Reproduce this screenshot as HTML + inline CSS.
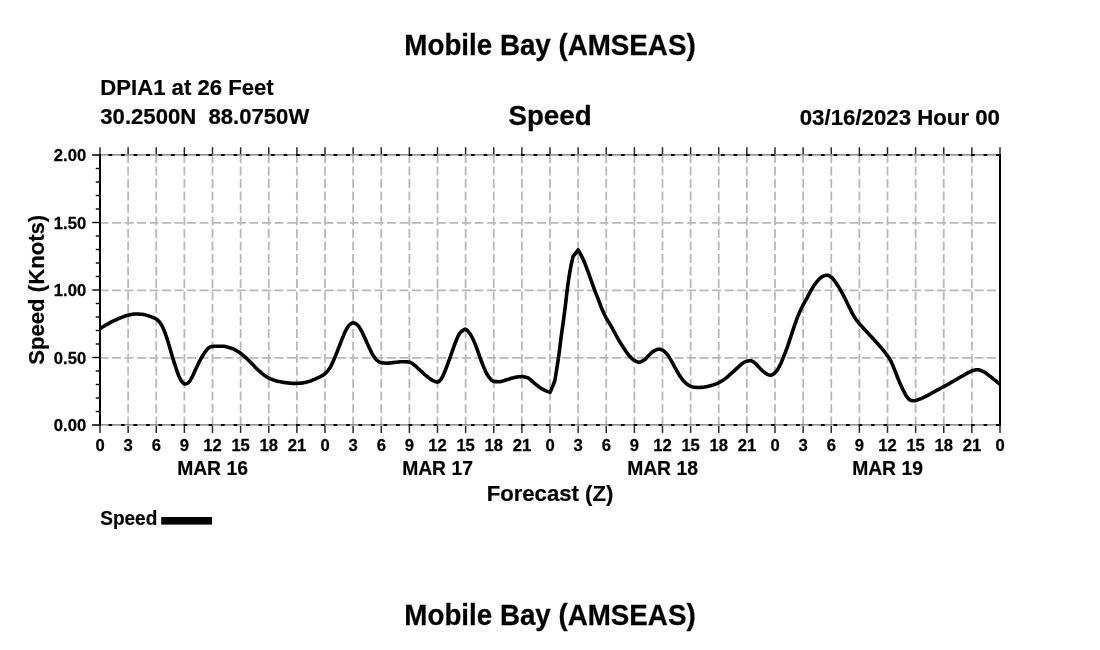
<!DOCTYPE html>
<html><head><meta charset="utf-8"><title>Mobile Bay (AMSEAS)</title>
<style>
html,body{margin:0;padding:0;background:#fff;}
body{width:1100px;height:650px;overflow:hidden;}
svg{display:block;}
text{font-family:"Liberation Sans",sans-serif;font-weight:bold;fill:#000;}
</style></head><body>
<svg width="1100" height="650" viewBox="0 0 1100 650">
<rect width="1100" height="650" fill="#fff"/>

<g stroke="#b9b9b9" stroke-width="1.8" stroke-dasharray="9 3.5" fill="none">
<line x1="128.125" y1="425.4" x2="128.125" y2="155"/>
<line x1="156.250" y1="425.4" x2="156.250" y2="155"/>
<line x1="184.375" y1="425.4" x2="184.375" y2="155"/>
<line x1="212.500" y1="425.4" x2="212.500" y2="155"/>
<line x1="240.625" y1="425.4" x2="240.625" y2="155"/>
<line x1="268.750" y1="425.4" x2="268.750" y2="155"/>
<line x1="296.875" y1="425.4" x2="296.875" y2="155"/>
<line x1="325.000" y1="425.4" x2="325.000" y2="155"/>
<line x1="353.125" y1="425.4" x2="353.125" y2="155"/>
<line x1="381.250" y1="425.4" x2="381.250" y2="155"/>
<line x1="409.375" y1="425.4" x2="409.375" y2="155"/>
<line x1="437.500" y1="425.4" x2="437.500" y2="155"/>
<line x1="465.625" y1="425.4" x2="465.625" y2="155"/>
<line x1="493.750" y1="425.4" x2="493.750" y2="155"/>
<line x1="521.875" y1="425.4" x2="521.875" y2="155"/>
<line x1="550.000" y1="425.4" x2="550.000" y2="155"/>
<line x1="578.125" y1="425.4" x2="578.125" y2="155"/>
<line x1="606.250" y1="425.4" x2="606.250" y2="155"/>
<line x1="634.375" y1="425.4" x2="634.375" y2="155"/>
<line x1="662.500" y1="425.4" x2="662.500" y2="155"/>
<line x1="690.625" y1="425.4" x2="690.625" y2="155"/>
<line x1="718.750" y1="425.4" x2="718.750" y2="155"/>
<line x1="746.875" y1="425.4" x2="746.875" y2="155"/>
<line x1="775.000" y1="425.4" x2="775.000" y2="155"/>
<line x1="803.125" y1="425.4" x2="803.125" y2="155"/>
<line x1="831.250" y1="425.4" x2="831.250" y2="155"/>
<line x1="859.375" y1="425.4" x2="859.375" y2="155"/>
<line x1="887.500" y1="425.4" x2="887.500" y2="155"/>
<line x1="915.625" y1="425.4" x2="915.625" y2="155"/>
<line x1="943.750" y1="425.4" x2="943.750" y2="155"/>
<line x1="971.875" y1="425.4" x2="971.875" y2="155"/>
<line x1="99.5" y1="357.9" x2="1000" y2="357.9"/>
<line x1="99.5" y1="290.4" x2="1000" y2="290.4"/>
<line x1="99.5" y1="222.9" x2="1000" y2="222.9"/>
</g>
<g stroke="#707070" stroke-width="1.4"><line x1="92.25" y1="154.9" x2="1000" y2="154.9"/><line x1="92.25" y1="424.9" x2="1000" y2="424.9"/></g>
<g stroke="#3a3a3a" stroke-width="2"><line x1="92.25" y1="155" x2="100" y2="155"/><line x1="92.25" y1="425" x2="100" y2="425"/></g>
<g stroke="#000" stroke-width="2" stroke-dasharray="3.6 8.9"><line x1="108.6" y1="155" x2="1000" y2="155"/><line x1="108.6" y1="425" x2="1000" y2="425"/></g>
<g stroke="#2a2a2a" stroke-width="1.5">
<line x1="100.000" y1="147.25" x2="100.000" y2="154"/>
<line x1="100.000" y1="426" x2="100.000" y2="432.9"/>
<line x1="128.125" y1="147.25" x2="128.125" y2="154"/>
<line x1="128.125" y1="426" x2="128.125" y2="432.9"/>
<line x1="156.250" y1="147.25" x2="156.250" y2="154"/>
<line x1="156.250" y1="426" x2="156.250" y2="432.9"/>
<line x1="184.375" y1="147.25" x2="184.375" y2="154"/>
<line x1="184.375" y1="426" x2="184.375" y2="432.9"/>
<line x1="212.500" y1="147.25" x2="212.500" y2="154"/>
<line x1="212.500" y1="426" x2="212.500" y2="432.9"/>
<line x1="240.625" y1="147.25" x2="240.625" y2="154"/>
<line x1="240.625" y1="426" x2="240.625" y2="432.9"/>
<line x1="268.750" y1="147.25" x2="268.750" y2="154"/>
<line x1="268.750" y1="426" x2="268.750" y2="432.9"/>
<line x1="296.875" y1="147.25" x2="296.875" y2="154"/>
<line x1="296.875" y1="426" x2="296.875" y2="432.9"/>
<line x1="325.000" y1="147.25" x2="325.000" y2="154"/>
<line x1="325.000" y1="426" x2="325.000" y2="432.9"/>
<line x1="353.125" y1="147.25" x2="353.125" y2="154"/>
<line x1="353.125" y1="426" x2="353.125" y2="432.9"/>
<line x1="381.250" y1="147.25" x2="381.250" y2="154"/>
<line x1="381.250" y1="426" x2="381.250" y2="432.9"/>
<line x1="409.375" y1="147.25" x2="409.375" y2="154"/>
<line x1="409.375" y1="426" x2="409.375" y2="432.9"/>
<line x1="437.500" y1="147.25" x2="437.500" y2="154"/>
<line x1="437.500" y1="426" x2="437.500" y2="432.9"/>
<line x1="465.625" y1="147.25" x2="465.625" y2="154"/>
<line x1="465.625" y1="426" x2="465.625" y2="432.9"/>
<line x1="493.750" y1="147.25" x2="493.750" y2="154"/>
<line x1="493.750" y1="426" x2="493.750" y2="432.9"/>
<line x1="521.875" y1="147.25" x2="521.875" y2="154"/>
<line x1="521.875" y1="426" x2="521.875" y2="432.9"/>
<line x1="550.000" y1="147.25" x2="550.000" y2="154"/>
<line x1="550.000" y1="426" x2="550.000" y2="432.9"/>
<line x1="578.125" y1="147.25" x2="578.125" y2="154"/>
<line x1="578.125" y1="426" x2="578.125" y2="432.9"/>
<line x1="606.250" y1="147.25" x2="606.250" y2="154"/>
<line x1="606.250" y1="426" x2="606.250" y2="432.9"/>
<line x1="634.375" y1="147.25" x2="634.375" y2="154"/>
<line x1="634.375" y1="426" x2="634.375" y2="432.9"/>
<line x1="662.500" y1="147.25" x2="662.500" y2="154"/>
<line x1="662.500" y1="426" x2="662.500" y2="432.9"/>
<line x1="690.625" y1="147.25" x2="690.625" y2="154"/>
<line x1="690.625" y1="426" x2="690.625" y2="432.9"/>
<line x1="718.750" y1="147.25" x2="718.750" y2="154"/>
<line x1="718.750" y1="426" x2="718.750" y2="432.9"/>
<line x1="746.875" y1="147.25" x2="746.875" y2="154"/>
<line x1="746.875" y1="426" x2="746.875" y2="432.9"/>
<line x1="775.000" y1="147.25" x2="775.000" y2="154"/>
<line x1="775.000" y1="426" x2="775.000" y2="432.9"/>
<line x1="803.125" y1="147.25" x2="803.125" y2="154"/>
<line x1="803.125" y1="426" x2="803.125" y2="432.9"/>
<line x1="831.250" y1="147.25" x2="831.250" y2="154"/>
<line x1="831.250" y1="426" x2="831.250" y2="432.9"/>
<line x1="859.375" y1="147.25" x2="859.375" y2="154"/>
<line x1="859.375" y1="426" x2="859.375" y2="432.9"/>
<line x1="887.500" y1="147.25" x2="887.500" y2="154"/>
<line x1="887.500" y1="426" x2="887.500" y2="432.9"/>
<line x1="915.625" y1="147.25" x2="915.625" y2="154"/>
<line x1="915.625" y1="426" x2="915.625" y2="432.9"/>
<line x1="943.750" y1="147.25" x2="943.750" y2="154"/>
<line x1="943.750" y1="426" x2="943.750" y2="432.9"/>
<line x1="971.875" y1="147.25" x2="971.875" y2="154"/>
<line x1="971.875" y1="426" x2="971.875" y2="432.9"/>
<line x1="1000.000" y1="147.25" x2="1000.000" y2="154"/>
<line x1="1000.000" y1="426" x2="1000.000" y2="432.9"/>
</g>
<g stroke="#000" stroke-width="1.4">
<line x1="95.75" y1="411.5" x2="100" y2="411.5"/>
<line x1="95.75" y1="398.0" x2="100" y2="398.0"/>
<line x1="95.75" y1="384.5" x2="100" y2="384.5"/>
<line x1="95.75" y1="371.0" x2="100" y2="371.0"/>
<line x1="92.25" y1="357.5" x2="100" y2="357.5"/>
<line x1="95.75" y1="344.0" x2="100" y2="344.0"/>
<line x1="95.75" y1="330.5" x2="100" y2="330.5"/>
<line x1="95.75" y1="317.0" x2="100" y2="317.0"/>
<line x1="95.75" y1="303.5" x2="100" y2="303.5"/>
<line x1="92.25" y1="290.0" x2="100" y2="290.0"/>
<line x1="95.75" y1="276.5" x2="100" y2="276.5"/>
<line x1="95.75" y1="263.0" x2="100" y2="263.0"/>
<line x1="95.75" y1="249.5" x2="100" y2="249.5"/>
<line x1="95.75" y1="236.0" x2="100" y2="236.0"/>
<line x1="92.25" y1="222.5" x2="100" y2="222.5"/>
<line x1="95.75" y1="209.0" x2="100" y2="209.0"/>
<line x1="95.75" y1="195.5" x2="100" y2="195.5"/>
<line x1="95.75" y1="182.0" x2="100" y2="182.0"/>
<line x1="95.75" y1="168.5" x2="100" y2="168.5"/>
</g>
<g stroke="#000" stroke-width="2"><line x1="100" y1="154" x2="100" y2="426"/><line x1="1000" y1="154" x2="1000" y2="426"/></g>
<path d="M100.0 328.5 L101.0 327.9 L102.0 327.3 L103.0 326.7 L104.0 326.1 L105.0 325.5 L106.0 324.9 L107.0 324.4 L108.0 323.8 L109.0 323.3 L109.7 322.9 L110.0 322.7 L111.0 322.2 L112.0 321.7 L113.0 321.2 L114.0 320.7 L115.0 320.2 L116.0 319.8 L117.0 319.3 L118.0 318.9 L118.5 318.7 L119.0 318.5 L120.0 318.1 L121.0 317.7 L122.0 317.3 L123.0 316.9 L124.0 316.5 L125.0 316.1 L126.0 315.8 L127.0 315.5 L128.0 315.3 L129.0 315.1 L130.0 314.8 L131.0 314.6 L132.0 314.4 L133.0 314.3 L134.0 314.1 L135.0 314.0 L136.0 314.0 L137.0 314.0 L138.0 314.0 L139.0 314.1 L140.0 314.2 L141.0 314.2 L141.8 314.3 L142.0 314.3 L143.0 314.4 L144.0 314.6 L145.0 314.9 L146.0 315.1 L147.0 315.4 L148.0 315.7 L149.0 316.0 L149.2 316.1 L150.0 316.4 L151.0 316.7 L152.0 317.1 L153.0 317.5 L154.0 317.9 L155.0 318.4 L156.0 319.0 L156.5 319.3 L157.0 319.6 L158.0 320.5 L159.0 321.5 L160.0 322.7 L161.0 324.1 L162.0 325.8 L163.0 327.9 L164.0 330.2 L164.5 331.4 L165.0 332.7 L166.0 335.5 L167.0 338.6 L168.0 341.8 L168.2 342.4 L169.0 345.1 L170.0 348.6 L171.0 352.1 L171.8 354.8 L172.0 355.5 L173.0 358.7 L174.0 361.9 L175.0 365.0 L175.5 366.5 L176.0 368.0 L177.0 371.1 L178.0 374.0 L179.0 376.5 L179.1 376.7 L180.0 378.6 L181.0 380.4 L182.0 381.8 L183.0 382.9 L184.0 383.7 L184.5 384.0 L185.5 383.9 L186.5 383.6 L187.5 383.2 L187.9 383.0 L188.5 382.6 L189.5 381.4 L190.5 379.9 L191.5 378.2 L192.5 376.3 L193.5 374.2 L194.5 371.8 L195.5 369.6 L195.9 368.7 L196.5 367.5 L197.5 365.4 L198.5 363.3 L199.5 361.4 L200.3 359.9 L200.5 359.5 L201.5 357.7 L202.5 356.0 L203.5 354.4 L204.5 352.9 L204.7 352.6 L205.5 351.5 L206.5 350.1 L207.5 348.9 L208.3 348.2 L208.5 348.1 L209.5 347.4 L210.5 346.9 L211.5 346.6 L212.0 346.5 L212.5 346.5 L213.5 346.4 L214.5 346.3 L215.5 346.3 L216.5 346.2 L217.5 346.2 L218.0 346.2 L218.5 346.2 L219.5 346.2 L220.5 346.2 L221.5 346.2 L222.3 346.2 L222.5 346.2 L223.5 346.3 L224.5 346.4 L225.5 346.6 L226.5 346.8 L227.5 347.1 L228.5 347.4 L229.5 347.7 L229.6 347.7 L230.5 348.0 L231.5 348.3 L232.5 348.7 L233.5 349.2 L234.5 349.7 L235.5 350.2 L236.5 350.7 L236.9 350.9 L237.5 351.2 L238.5 351.8 L239.5 352.5 L240.5 353.2 L241.0 353.6 L241.5 354.0 L242.5 354.8 L243.5 355.6 L244.5 356.5 L245.5 357.4 L246.5 358.3 L247.2 359.0 L247.5 359.3 L248.5 360.2 L249.5 361.2 L250.5 362.3 L251.5 363.3 L252.5 364.3 L253.0 364.8 L253.5 365.3 L254.5 366.4 L255.5 367.4 L256.5 368.5 L257.5 369.5 L258.5 370.4 L258.8 370.7 L259.5 371.3 L260.5 372.2 L261.5 373.1 L262.5 373.9 L263.5 374.6 L264.5 375.4 L264.7 375.5 L265.5 376.0 L266.5 376.7 L267.5 377.3 L268.5 377.9 L268.8 378.0 L269.5 378.3 L270.5 378.8 L271.5 379.2 L272.5 379.6 L273.5 380.0 L274.5 380.3 L275.5 380.7 L276.4 380.9 L276.5 380.9 L277.5 381.2 L278.5 381.4 L279.5 381.6 L280.5 381.8 L281.5 382.0 L282.5 382.2 L283.5 382.4 L284.5 382.5 L285.2 382.6 L285.5 382.6 L286.5 382.8 L287.5 382.9 L288.5 383.0 L289.5 383.1 L290.5 383.2 L291.5 383.3 L292.5 383.4 L293.5 383.4 L293.9 383.4 L294.5 383.4 L295.5 383.4 L296.5 383.4 L297.5 383.3 L298.5 383.3 L299.5 383.2 L300.5 383.1 L301.2 383.1 L301.5 383.1 L302.5 383.0 L303.5 382.8 L304.5 382.6 L305.5 382.4 L306.5 382.1 L307.5 381.9 L308.5 381.6 L309.5 381.3 L310.5 381.0 L311.5 380.6 L312.5 380.2 L313.5 379.7 L314.5 379.3 L315.5 378.8 L315.8 378.7 L316.5 378.4 L317.5 378.0 L318.5 377.5 L319.5 377.0 L320.5 376.6 L321.5 376.0 L322.5 375.4 L323.2 375.0 L323.5 374.8 L324.5 374.0 L325.5 373.2 L326.5 372.2 L327.5 371.1 L328.5 369.9 L329.4 368.7 L329.5 368.6 L330.5 366.9 L331.5 364.9 L332.5 362.8 L333.5 360.6 L333.8 359.9 L334.5 358.3 L335.5 355.9 L336.5 353.3 L337.5 350.8 L338.2 349.0 L338.5 348.2 L339.5 345.6 L340.5 343.0 L341.5 340.4 L342.5 338.0 L343.5 335.6 L344.5 333.3 L345.5 331.1 L346.5 329.2 L346.9 328.5 L347.5 327.5 L348.5 326.0 L349.5 324.9 L349.8 324.6 L350.5 324.0 L351.5 323.4 L352.5 322.9 L353.1 322.7 L354.1 322.9 L355.1 323.3 L356.1 323.9 L356.4 324.1 L357.1 324.6 L358.1 325.7 L359.1 327.0 L360.1 328.5 L361.1 330.2 L362.1 332.1 L363.1 334.3 L364.1 336.4 L364.5 337.3 L365.1 338.6 L366.1 340.8 L367.1 343.1 L368.1 345.3 L368.8 346.8 L369.1 347.4 L370.1 349.6 L371.1 351.7 L372.1 353.6 L373.1 355.3 L373.2 355.5 L374.1 356.9 L375.1 358.2 L376.1 359.4 L376.9 360.2 L377.1 360.4 L378.1 361.2 L379.1 361.9 L380.1 362.5 L381.1 362.8 L381.3 362.8 L382.1 362.9 L383.1 362.9 L384.1 363.0 L385.1 363.0 L386.1 363.1 L387.1 363.1 L387.8 363.1 L388.1 363.1 L389.1 363.1 L390.1 363.0 L391.1 362.9 L392.1 362.8 L393.1 362.6 L394.1 362.5 L395.1 362.4 L395.2 362.4 L396.1 362.3 L397.1 362.2 L398.1 362.1 L399.1 361.9 L400.1 361.8 L401.1 361.7 L402.1 361.7 L402.5 361.7 L403.1 361.7 L404.1 361.7 L405.1 361.8 L406.1 361.8 L407.1 361.9 L408.1 362.0 L409.1 362.1 L409.3 362.1 L410.1 362.3 L411.1 362.8 L412.1 363.4 L413.1 364.2 L414.1 364.9 L414.2 365.0 L415.1 365.7 L416.1 366.5 L417.1 367.5 L418.1 368.4 L419.1 369.4 L420.0 370.2 L420.1 370.3 L421.1 371.2 L422.1 372.1 L423.1 373.1 L424.1 374.0 L425.1 374.9 L426.1 375.7 L427.1 376.5 L427.3 376.7 L428.1 377.3 L429.1 378.1 L430.1 378.8 L431.1 379.5 L432.1 380.1 L433.1 380.7 L433.2 380.7 L434.1 381.1 L435.1 381.5 L436.1 381.8 L437.1 382.1 L437.4 382.2 L438.4 381.8 L439.4 381.0 L440.4 379.9 L440.8 379.5 L441.4 378.7 L442.4 376.9 L443.4 374.7 L444.4 372.4 L444.5 372.2 L445.4 370.1 L446.4 367.5 L447.4 364.9 L448.2 362.7 L448.4 362.2 L449.4 359.4 L450.4 356.5 L451.4 353.6 L451.8 352.5 L452.4 350.8 L453.4 348.0 L454.4 345.2 L455.4 342.5 L455.5 342.3 L456.4 340.0 L457.4 337.6 L458.4 335.4 L459.1 334.2 L459.4 333.8 L460.4 332.5 L461.4 331.5 L462.0 331.0 L462.4 330.7 L463.4 330.0 L464.4 329.5 L465.4 329.1 L465.5 329.1 L466.5 329.8 L467.5 330.7 L468.5 331.8 L469.3 332.8 L469.5 333.1 L470.5 334.6 L471.5 336.3 L472.5 338.3 L473.0 339.3 L473.5 340.3 L474.5 342.6 L475.5 345.0 L476.5 347.6 L476.7 348.1 L477.5 350.3 L478.5 353.2 L479.5 356.1 L480.3 358.3 L480.5 358.8 L481.5 361.5 L482.5 364.1 L483.5 366.6 L484.0 367.8 L484.5 368.9 L485.5 371.2 L486.5 373.3 L487.5 375.0 L487.6 375.2 L488.5 376.5 L489.5 377.9 L490.5 379.0 L491.3 379.8 L491.5 380.0 L492.5 380.8 L493.5 381.4 L493.8 381.4 L494.5 381.5 L495.5 381.6 L496.5 381.6 L497.5 381.7 L498.5 381.7 L499.3 381.7 L499.5 381.7 L500.5 381.6 L501.5 381.4 L502.5 381.1 L503.5 380.8 L504.5 380.5 L505.5 380.1 L506.5 379.8 L506.6 379.8 L507.5 379.5 L508.5 379.2 L509.5 378.9 L510.5 378.5 L511.5 378.2 L512.5 377.9 L513.5 377.7 L513.9 377.6 L514.5 377.5 L515.5 377.3 L516.5 377.1 L517.5 377.0 L518.5 376.8 L519.5 376.7 L520.5 376.7 L521.5 376.6 L522.0 376.6 L522.5 376.6 L523.5 376.7 L524.5 376.9 L525.5 377.1 L526.5 377.4 L527.1 377.6 L527.5 377.7 L528.5 378.2 L529.5 378.9 L530.5 379.8 L531.5 380.7 L532.5 381.6 L533.5 382.5 L534.4 383.2 L534.5 383.3 L535.5 384.1 L536.5 384.9 L537.5 385.7 L538.5 386.5 L539.5 387.2 L540.5 387.9 L541.5 388.6 L541.7 388.7 L542.5 389.2 L543.5 389.7 L544.5 390.2 L545.5 390.7 L546.5 391.1 L547.5 391.5 L548.5 391.8 L549.5 392.1 L550.1 392.3 L551.1 390.0 L552.1 387.6 L553.0 385.4 L553.1 385.1 L554.1 382.5 L554.9 380.3 L555.9 374.3 L556.7 369.3 L556.9 368.0 L557.9 361.6 L558.9 354.7 L559.9 346.9 L560.9 338.7 L561.1 337.2 L561.9 331.4 L562.9 324.4 L563.3 321.5 L563.9 317.0 L564.9 309.4 L565.5 304.6 L565.9 301.2 L566.9 292.4 L567.2 290.0 L567.9 284.7 L568.9 277.8 L569.1 276.5 L569.9 271.6 L570.9 266.1 L571.3 264.1 L571.9 261.3 L572.9 257.1 L573.1 256.4 L574.1 255.2 L575.1 254.0 L575.7 253.2 L576.1 252.7 L577.1 251.3 L578.1 249.9 L578.2 249.8 L579.2 251.6 L580.2 253.5 L580.8 254.6 L581.2 255.4 L582.2 257.3 L583.2 259.4 L583.7 260.5 L584.2 261.7 L585.2 264.2 L586.2 266.8 L587.2 269.5 L587.4 270.0 L588.2 272.2 L589.2 275.0 L590.2 277.8 L591.0 280.0 L591.2 280.6 L592.2 283.4 L593.2 286.2 L594.2 288.9 L594.6 290.0 L595.2 291.6 L596.2 294.2 L597.2 296.7 L598.2 299.2 L598.3 299.5 L599.2 301.8 L600.2 304.5 L601.2 307.1 L602.0 309.0 L602.2 309.5 L603.2 311.8 L604.2 314.0 L605.2 316.0 L606.2 318.0 L607.2 319.8 L608.2 321.4 L609.2 323.0 L610.2 324.6 L611.0 326.0 L611.2 326.4 L612.2 328.1 L613.2 330.0 L614.2 331.9 L615.2 333.7 L616.2 335.6 L617.0 337.0 L617.2 337.3 L618.2 339.1 L619.2 340.8 L620.2 342.5 L621.2 344.1 L622.2 345.7 L623.0 347.0 L623.2 347.3 L624.2 348.8 L625.2 350.3 L626.2 351.8 L627.2 353.2 L628.0 354.2 L628.2 354.4 L629.2 355.7 L630.2 356.8 L631.2 357.9 L632.0 358.6 L632.2 358.8 L633.2 359.6 L634.2 360.3 L635.2 360.9 L636.0 361.3 L636.2 361.4 L637.2 361.8 L638.2 362.2 L639.0 362.3 L639.2 362.3 L640.2 362.1 L641.2 361.7 L642.2 361.2 L643.2 360.6 L644.2 359.9 L644.4 359.8 L645.2 359.2 L646.2 358.2 L647.2 357.1 L648.2 356.0 L648.8 355.4 L649.2 355.0 L650.2 354.1 L651.2 353.1 L652.2 352.2 L653.2 351.5 L654.2 350.9 L655.2 350.3 L656.2 349.9 L656.5 349.8 L657.2 349.6 L658.2 349.3 L659.2 349.2 L659.4 349.2 L660.2 349.3 L661.2 349.6 L662.2 350.0 L662.6 350.2 L663.2 350.5 L664.2 351.3 L665.2 352.2 L666.2 353.3 L666.7 353.8 L667.2 354.4 L668.2 355.7 L669.2 357.3 L670.2 358.9 L671.1 360.4 L671.2 360.6 L672.2 362.3 L673.2 364.2 L674.2 366.1 L675.2 368.0 L675.5 368.5 L676.2 369.7 L677.2 371.5 L678.2 373.2 L679.2 374.9 L679.8 375.8 L680.2 376.4 L681.2 377.8 L682.2 379.2 L683.2 380.5 L684.2 381.6 L685.2 382.6 L686.2 383.5 L687.2 384.3 L687.9 384.8 L688.2 385.0 L689.2 385.6 L690.2 386.1 L690.8 386.3 L691.2 386.4 L692.2 386.7 L693.2 386.9 L694.2 387.2 L695.2 387.3 L696.2 387.4 L697.2 387.5 L697.4 387.5 L698.2 387.5 L699.2 387.5 L700.2 387.4 L701.2 387.4 L702.2 387.3 L703.2 387.2 L704.2 387.1 L705.2 386.9 L706.2 386.8 L707.2 386.5 L708.2 386.3 L709.2 386.0 L710.2 385.8 L710.5 385.7 L711.2 385.5 L712.2 385.2 L713.2 384.9 L714.2 384.5 L715.2 384.2 L716.2 383.8 L717.2 383.4 L718.2 382.9 L718.9 382.6 L719.2 382.5 L720.2 381.9 L721.2 381.4 L722.2 380.8 L723.2 380.1 L724.2 379.4 L725.2 378.7 L726.2 377.9 L727.2 377.1 L728.2 376.2 L729.2 375.2 L730.2 374.3 L731.0 373.6 L731.2 373.4 L732.2 372.5 L733.2 371.7 L734.2 370.8 L735.2 369.9 L736.2 369.0 L736.8 368.5 L737.2 368.1 L738.2 367.2 L739.2 366.2 L740.2 365.3 L741.2 364.4 L742.2 363.6 L742.7 363.3 L743.2 363.0 L744.2 362.4 L745.2 361.9 L746.2 361.5 L747.1 361.2 L747.2 361.2 L748.2 361.0 L749.2 360.8 L750.2 360.7 L750.7 360.7 L751.2 360.8 L752.2 361.1 L753.2 361.8 L754.2 362.5 L754.4 362.6 L755.2 363.2 L756.2 364.2 L757.2 365.3 L758.2 366.4 L758.8 367.0 L759.2 367.4 L760.2 368.5 L761.2 369.5 L762.2 370.5 L763.2 371.4 L764.2 372.2 L765.2 373.0 L766.2 373.6 L767.2 374.2 L767.5 374.3 L768.2 374.6 L769.2 375.0 L770.2 375.2 L770.6 375.2 L771.2 375.1 L772.2 374.8 L773.2 374.2 L774.2 373.4 L775.0 372.8 L775.2 372.6 L776.2 371.5 L777.2 370.1 L778.2 368.5 L778.9 367.3 L779.2 366.8 L780.2 364.8 L781.1 362.9 L781.2 362.7 L782.2 360.3 L783.2 357.8 L783.3 357.5 L784.2 355.3 L785.2 352.8 L786.2 350.2 L786.9 348.3 L787.2 347.5 L788.2 344.6 L789.2 341.6 L790.2 338.5 L790.6 337.3 L791.2 335.5 L792.2 332.4 L793.2 329.4 L794.2 326.4 L795.2 323.5 L796.2 320.7 L797.2 318.0 L797.9 316.2 L798.2 315.5 L799.2 313.1 L800.2 310.9 L801.2 308.8 L802.2 306.8 L803.0 305.2 L803.2 304.8 L804.2 302.9 L805.2 301.1 L806.2 299.4 L807.2 297.6 L807.4 297.2 L808.2 295.7 L809.2 293.8 L810.2 291.9 L811.2 290.1 L811.8 289.1 L812.2 288.4 L813.2 286.8 L814.2 285.3 L815.2 283.8 L816.2 282.5 L817.2 281.3 L818.2 280.1 L819.2 279.0 L820.2 278.1 L820.5 277.9 L821.2 277.4 L822.2 276.7 L823.2 276.2 L824.2 275.8 L825.2 275.5 L826.2 275.3 L827.1 275.2 L827.2 275.2 L828.2 275.4 L829.2 275.8 L830.2 276.4 L831.1 277.0 L831.2 277.1 L832.2 277.9 L833.2 279.1 L834.2 280.4 L835.2 281.8 L836.2 283.2 L837.2 284.7 L838.2 286.3 L839.2 287.9 L839.5 288.4 L840.2 289.6 L841.2 291.4 L842.2 293.2 L843.2 295.1 L843.9 296.4 L844.2 297.0 L845.2 298.9 L846.2 301.0 L847.2 303.0 L848.2 305.0 L848.3 305.2 L849.2 307.0 L850.2 309.1 L851.2 311.1 L852.2 313.1 L852.7 314.0 L853.2 314.9 L854.2 316.6 L855.2 318.2 L856.2 319.7 L856.3 319.8 L857.2 321.0 L858.2 322.2 L859.0 323.2 L859.2 323.4 L860.2 324.6 L861.2 325.7 L862.2 326.9 L863.2 328.0 L864.2 329.1 L865.2 330.1 L865.8 330.8 L866.2 331.2 L867.2 332.3 L868.2 333.4 L869.2 334.5 L870.2 335.6 L871.2 336.6 L872.2 337.7 L873.2 338.8 L874.2 339.9 L875.2 341.0 L876.2 342.1 L877.2 343.2 L878.0 344.1 L878.2 344.3 L879.2 345.5 L880.2 346.6 L881.2 347.7 L882.2 348.9 L883.1 350.0 L883.2 350.1 L884.2 351.4 L885.2 352.7 L886.2 354.0 L887.2 355.4 L887.5 355.8 L888.2 356.8 L889.2 358.3 L890.2 359.9 L891.2 361.7 L892.2 363.9 L893.2 366.3 L894.2 368.9 L894.8 370.4 L895.2 371.4 L896.2 373.9 L897.2 376.5 L898.2 379.0 L899.2 381.4 L900.2 383.7 L901.2 385.9 L902.2 388.1 L903.2 390.1 L903.6 390.9 L904.2 392.1 L905.2 394.0 L906.2 395.8 L907.2 397.2 L908.2 398.4 L909.2 399.4 L910.2 400.1 L910.9 400.4 L911.2 400.5 L912.2 400.6 L913.2 400.7 L914.2 400.8 L914.5 400.8 L915.2 400.7 L916.2 400.5 L917.2 400.1 L918.2 399.7 L919.2 399.3 L920.2 399.0 L921.2 398.5 L922.2 398.1 L923.2 397.6 L924.2 397.2 L924.8 396.9 L925.2 396.7 L926.2 396.2 L927.2 395.7 L928.2 395.1 L929.2 394.6 L930.2 394.0 L931.2 393.4 L932.2 392.9 L933.2 392.3 L934.2 391.8 L934.3 391.7 L935.2 391.2 L936.2 390.7 L937.2 390.1 L938.2 389.6 L939.2 389.1 L940.2 388.5 L941.2 388.0 L942.2 387.5 L943.2 386.9 L943.8 386.6 L944.2 386.4 L945.2 385.8 L946.2 385.3 L947.2 384.7 L948.2 384.1 L949.2 383.6 L950.2 383.0 L951.2 382.4 L952.2 381.8 L953.2 381.3 L954.0 380.8 L954.2 380.7 L955.2 380.1 L956.2 379.5 L957.2 379.0 L958.2 378.4 L959.2 377.8 L960.2 377.2 L961.2 376.6 L962.2 376.1 L963.2 375.5 L964.2 375.0 L964.3 374.9 L965.2 374.4 L966.2 373.8 L967.2 373.2 L968.2 372.6 L969.2 372.1 L970.2 371.6 L971.2 371.1 L971.9 370.9 L972.2 370.8 L973.2 370.5 L974.2 370.2 L975.2 370.0 L976.2 369.8 L977.2 369.7 L977.4 369.7 L978.2 369.8 L979.2 369.9 L980.2 370.2 L981.2 370.6 L982.2 371.0 L983.2 371.5 L983.3 371.5 L984.2 372.0 L985.2 372.6 L986.2 373.3 L987.2 374.1 L988.2 374.9 L989.1 375.6 L989.2 375.7 L990.2 376.4 L991.2 377.2 L992.2 378.0 L993.2 378.8 L994.2 379.6 L995.0 380.2 L995.2 380.4 L996.2 381.2 L997.2 382.0 L998.2 382.8 L999.2 383.6 L1000.0 384.3" fill="none" stroke="#000" stroke-width="3.6" stroke-linejoin="round" stroke-linecap="butt"/>
<text transform="translate(86.2 430.9) scale(1.02 1.03)" font-size="16.3" text-anchor="end" stroke="#000" stroke-width="0.25" stroke-linejoin="round">0.00</text>
<text transform="translate(86.2 364.4) scale(1.02 1.03)" font-size="16.3" text-anchor="end" stroke="#000" stroke-width="0.25" stroke-linejoin="round">0.50</text>
<text transform="translate(86.2 296.0) scale(1.02 1.03)" font-size="16.3" text-anchor="end" stroke="#000" stroke-width="0.25" stroke-linejoin="round">1.00</text>
<text transform="translate(86.2 229.20000000000002) scale(1.02 1.03)" font-size="16.3" text-anchor="end" stroke="#000" stroke-width="0.25" stroke-linejoin="round">1.50</text>
<text transform="translate(86.2 160.9) scale(1.02 1.03)" font-size="16.3" text-anchor="end" stroke="#000" stroke-width="0.25" stroke-linejoin="round">2.00</text>
<text transform="translate(100.0 450.7) scale(1.02 1.02)" font-size="16.3" text-anchor="middle" stroke="#000" stroke-width="0.25" stroke-linejoin="round">0</text>
<text transform="translate(128.12 450.7) scale(1.02 1.02)" font-size="16.3" text-anchor="middle" stroke="#000" stroke-width="0.25" stroke-linejoin="round">3</text>
<text transform="translate(156.25 450.7) scale(1.02 1.02)" font-size="16.3" text-anchor="middle" stroke="#000" stroke-width="0.25" stroke-linejoin="round">6</text>
<text transform="translate(184.38 450.7) scale(1.02 1.02)" font-size="16.3" text-anchor="middle" stroke="#000" stroke-width="0.25" stroke-linejoin="round">9</text>
<text transform="translate(212.5 450.7) scale(1.02 1.02)" font-size="16.3" text-anchor="middle" stroke="#000" stroke-width="0.25" stroke-linejoin="round">12</text>
<text transform="translate(240.62 450.7) scale(1.02 1.02)" font-size="16.3" text-anchor="middle" stroke="#000" stroke-width="0.25" stroke-linejoin="round">15</text>
<text transform="translate(268.75 450.7) scale(1.02 1.02)" font-size="16.3" text-anchor="middle" stroke="#000" stroke-width="0.25" stroke-linejoin="round">18</text>
<text transform="translate(296.88 450.7) scale(1.02 1.02)" font-size="16.3" text-anchor="middle" stroke="#000" stroke-width="0.25" stroke-linejoin="round">21</text>
<text transform="translate(325.0 450.7) scale(1.02 1.02)" font-size="16.3" text-anchor="middle" stroke="#000" stroke-width="0.25" stroke-linejoin="round">0</text>
<text transform="translate(353.12 450.7) scale(1.02 1.02)" font-size="16.3" text-anchor="middle" stroke="#000" stroke-width="0.25" stroke-linejoin="round">3</text>
<text transform="translate(381.25 450.7) scale(1.02 1.02)" font-size="16.3" text-anchor="middle" stroke="#000" stroke-width="0.25" stroke-linejoin="round">6</text>
<text transform="translate(409.38 450.7) scale(1.02 1.02)" font-size="16.3" text-anchor="middle" stroke="#000" stroke-width="0.25" stroke-linejoin="round">9</text>
<text transform="translate(437.5 450.7) scale(1.02 1.02)" font-size="16.3" text-anchor="middle" stroke="#000" stroke-width="0.25" stroke-linejoin="round">12</text>
<text transform="translate(465.62 450.7) scale(1.02 1.02)" font-size="16.3" text-anchor="middle" stroke="#000" stroke-width="0.25" stroke-linejoin="round">15</text>
<text transform="translate(493.75 450.7) scale(1.02 1.02)" font-size="16.3" text-anchor="middle" stroke="#000" stroke-width="0.25" stroke-linejoin="round">18</text>
<text transform="translate(521.88 450.7) scale(1.02 1.02)" font-size="16.3" text-anchor="middle" stroke="#000" stroke-width="0.25" stroke-linejoin="round">21</text>
<text transform="translate(550.0 450.7) scale(1.02 1.02)" font-size="16.3" text-anchor="middle" stroke="#000" stroke-width="0.25" stroke-linejoin="round">0</text>
<text transform="translate(578.12 450.7) scale(1.02 1.02)" font-size="16.3" text-anchor="middle" stroke="#000" stroke-width="0.25" stroke-linejoin="round">3</text>
<text transform="translate(606.25 450.7) scale(1.02 1.02)" font-size="16.3" text-anchor="middle" stroke="#000" stroke-width="0.25" stroke-linejoin="round">6</text>
<text transform="translate(634.38 450.7) scale(1.02 1.02)" font-size="16.3" text-anchor="middle" stroke="#000" stroke-width="0.25" stroke-linejoin="round">9</text>
<text transform="translate(662.5 450.7) scale(1.02 1.02)" font-size="16.3" text-anchor="middle" stroke="#000" stroke-width="0.25" stroke-linejoin="round">12</text>
<text transform="translate(690.62 450.7) scale(1.02 1.02)" font-size="16.3" text-anchor="middle" stroke="#000" stroke-width="0.25" stroke-linejoin="round">15</text>
<text transform="translate(718.75 450.7) scale(1.02 1.02)" font-size="16.3" text-anchor="middle" stroke="#000" stroke-width="0.25" stroke-linejoin="round">18</text>
<text transform="translate(746.88 450.7) scale(1.02 1.02)" font-size="16.3" text-anchor="middle" stroke="#000" stroke-width="0.25" stroke-linejoin="round">21</text>
<text transform="translate(775.0 450.7) scale(1.02 1.02)" font-size="16.3" text-anchor="middle" stroke="#000" stroke-width="0.25" stroke-linejoin="round">0</text>
<text transform="translate(803.12 450.7) scale(1.02 1.02)" font-size="16.3" text-anchor="middle" stroke="#000" stroke-width="0.25" stroke-linejoin="round">3</text>
<text transform="translate(831.25 450.7) scale(1.02 1.02)" font-size="16.3" text-anchor="middle" stroke="#000" stroke-width="0.25" stroke-linejoin="round">6</text>
<text transform="translate(859.38 450.7) scale(1.02 1.02)" font-size="16.3" text-anchor="middle" stroke="#000" stroke-width="0.25" stroke-linejoin="round">9</text>
<text transform="translate(887.5 450.7) scale(1.02 1.02)" font-size="16.3" text-anchor="middle" stroke="#000" stroke-width="0.25" stroke-linejoin="round">12</text>
<text transform="translate(915.62 450.7) scale(1.02 1.02)" font-size="16.3" text-anchor="middle" stroke="#000" stroke-width="0.25" stroke-linejoin="round">15</text>
<text transform="translate(943.75 450.7) scale(1.02 1.02)" font-size="16.3" text-anchor="middle" stroke="#000" stroke-width="0.25" stroke-linejoin="round">18</text>
<text transform="translate(971.88 450.7) scale(1.02 1.02)" font-size="16.3" text-anchor="middle" stroke="#000" stroke-width="0.25" stroke-linejoin="round">21</text>
<text transform="translate(1000.0 450.7) scale(1.02 1.02)" font-size="16.3" text-anchor="middle" stroke="#000" stroke-width="0.25" stroke-linejoin="round">0</text>
<text transform="translate(212.5 474.6) scale(1.0 1.03)" font-size="19.3" text-anchor="middle" stroke="#000" stroke-width="0.2" stroke-linejoin="round">MAR 16</text>
<text transform="translate(437.5 474.6) scale(1.0 1.03)" font-size="19.3" text-anchor="middle" stroke="#000" stroke-width="0.2" stroke-linejoin="round">MAR 17</text>
<text transform="translate(662.5 474.6) scale(1.0 1.03)" font-size="19.3" text-anchor="middle" stroke="#000" stroke-width="0.2" stroke-linejoin="round">MAR 18</text>
<text transform="translate(887.5 474.6) scale(1.0 1.03)" font-size="19.3" text-anchor="middle" stroke="#000" stroke-width="0.2" stroke-linejoin="round">MAR 19</text>
<text transform="translate(550 54.7) scale(1.0 1.03)" font-size="27.75" text-anchor="middle" stroke="#000" stroke-width="0.25" stroke-linejoin="round">Mobile Bay (AMSEAS)</text>
<text transform="translate(550 624.7) scale(1.0 1.03)" font-size="27.75" text-anchor="middle" stroke="#000" stroke-width="0.25" stroke-linejoin="round">Mobile Bay (AMSEAS)</text>
<text transform="translate(550 124.5) scale(1.0 1.02)" font-size="27.75" text-anchor="middle" stroke="#000" stroke-width="0.25" stroke-linejoin="round">Speed</text>
<text transform="translate(100.3 94.6) scale(1.0 1.025)" font-size="22.15" stroke="#000" stroke-width="0.2" stroke-linejoin="round">DPIA1 at 26 Feet</text>
<text transform="translate(100.3 124.25) scale(1.0 1.025)" font-size="22.15" stroke="#000" stroke-width="0.2" stroke-linejoin="round">30.2500N</text>
<text transform="translate(309.3 124.25) scale(1.0 1.025)" font-size="22.15" text-anchor="end" stroke="#000" stroke-width="0.2" stroke-linejoin="round">88.0750W</text>
<text transform="translate(1000 124.5) scale(1.0 1.025)" font-size="22.25" text-anchor="end" stroke="#000" stroke-width="0.2" stroke-linejoin="round">03/16/2023 Hour 00</text>
<text transform="translate(550 500.9) scale(1.0 1.02)" font-size="22.15" text-anchor="middle" stroke="#000" stroke-width="0.2" stroke-linejoin="round">Forecast (Z)</text>
<text transform="translate(44.4 289.8) rotate(-90)" font-size="22.15" text-anchor="middle" stroke="#000" stroke-width="0.2" stroke-linejoin="round">Speed (Knots)</text>
<text transform="translate(100.3 524.7) scale(1.0 1.05)" font-size="19.0" stroke="#000" stroke-width="0.2" stroke-linejoin="round">Speed</text>
<rect x="161.2" y="517" width="50.8" height="7.6" fill="#000"/>
</svg></body></html>
